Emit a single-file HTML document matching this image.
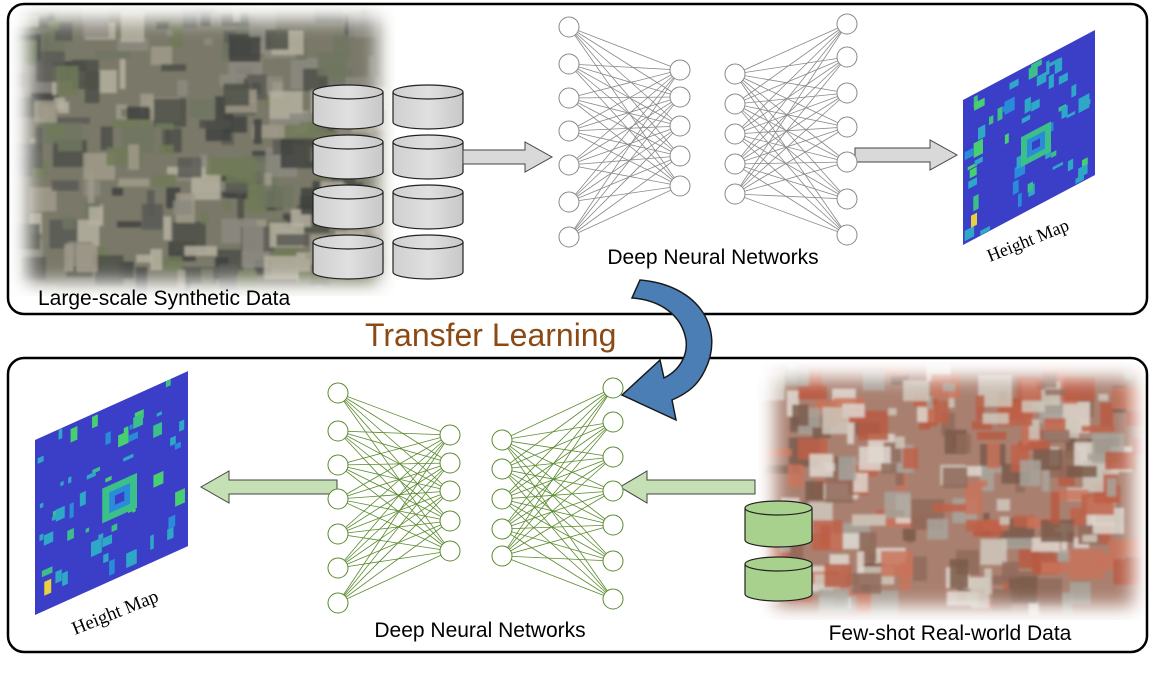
<!DOCTYPE html>
<html><head><meta charset="utf-8"><style>
html,body{margin:0;padding:0;background:#fff;width:1155px;height:676px;overflow:hidden}
svg{display:block}
text{font-family:"Liberation Sans",sans-serif}
</style></head><body>
<svg width="1155" height="676" viewBox="0 0 1155 676" xmlns="http://www.w3.org/2000/svg">
<defs>
<linearGradient id="cyl" x1="0" x2="1"><stop offset="0" stop-color="#cfcfcf"/><stop offset="0.5" stop-color="#e0e0e0"/><stop offset="1" stop-color="#c8c8c8"/></linearGradient>
<filter id="bl"><feGaussianBlur stdDeviation="1.2"/></filter>
<filter id="bl2"><feGaussianBlur stdDeviation="10"/></filter>
<filter id="mb" x="-0.2" y="-0.2" width="1.4" height="1.4"><feGaussianBlur stdDeviation="9"/></filter>
<mask id="m1" maskUnits="userSpaceOnUse" x="0" y="0" width="1155" height="676"><rect x="28" y="20" width="350" height="262" fill="#fff" filter="url(#mb)"/></mask>
<mask id="m2" maskUnits="userSpaceOnUse" x="0" y="0" width="1155" height="676"><rect x="775" y="378" width="358" height="228" fill="#fff" filter="url(#mb)"/></mask>
</defs>

<g id="city1" mask="url(#m1)"></g>
<g id="city2" mask="url(#m2)"></g>

<rect x="8" y="4" width="1139" height="310" rx="16" fill="none" stroke="#000" stroke-width="2.5"/>
<rect x="8" y="358" width="1139" height="294" rx="16" fill="none" stroke="#000" stroke-width="2.5"/>

<g stroke="#222" stroke-width="1.2" fill="url(#cyl)">
<path d="M313,92 v30 a35,7 0 0 0 70,0 v-30"/><ellipse cx="348" cy="92" rx="35" ry="7"/>
<path d="M393,92 v30 a35,7 0 0 0 70,0 v-30"/><ellipse cx="428" cy="92" rx="35" ry="7"/>
<path d="M313,142 v30 a35,7 0 0 0 70,0 v-30"/><ellipse cx="348" cy="142" rx="35" ry="7"/>
<path d="M393,142 v30 a35,7 0 0 0 70,0 v-30"/><ellipse cx="428" cy="142" rx="35" ry="7"/>
<path d="M313,192 v30 a35,7 0 0 0 70,0 v-30"/><ellipse cx="348" cy="192" rx="35" ry="7"/>
<path d="M393,192 v30 a35,7 0 0 0 70,0 v-30"/><ellipse cx="428" cy="192" rx="35" ry="7"/>
<path d="M313,242 v30 a35,7 0 0 0 70,0 v-30"/><ellipse cx="348" cy="242" rx="35" ry="7"/>
<path d="M393,242 v30 a35,7 0 0 0 70,0 v-30"/><ellipse cx="428" cy="242" rx="35" ry="7"/>
</g>
<g stroke="#222" stroke-width="1.2" fill="#a9d18e">
<path d="M745,508 v32 a33.5,7 0 0 0 67,0 v-32"/><ellipse cx="778.5" cy="508" rx="33.5" ry="7"/>
<path d="M745,564 v30 a33.5,7 0 0 0 67,0 v-30"/><ellipse cx="778.5" cy="564" rx="33.5" ry="7"/>
</g>

<g stroke="#444" stroke-width="1">
<path d="M463,150 h62 v-8 l27,15 l-27,15 v-8 h-62z" fill="#d9d9d9"/>
<path d="M855,148 h75 v-8 l27,15 l-27,15 v-8 h-75z" fill="#d9d9d9"/>
<path d="M755,480 h-108 v-9 l-27,16 l27,16 v-9 h108z" fill="#c5e0b4"/>
<path d="M337,480 h-108 v-9 l-28,16 l28,16 v-9 h108z" fill="#c5e0b4"/>
</g>

<path d="M640,280 C700,285 725,330 705,370 C698,385 688,393 672,400 L676,420 L622,395 L660,360 L664,378 C680,370 688,355 686,340 C682,315 660,300 632,298 Z" fill="#4a7eb4" stroke="#1a1a1a" stroke-width="1.5"/>

<g id="nets"></g>

<g transform="matrix(1,-0.53,0,1,963,100)"><g id="hm1"></g></g>
<g transform="matrix(1,-0.45,0,1,35,440)"><g id="hm2"></g></g>

<text x="38" y="305" font-size="21" fill="#000">Large-scale Synthetic Data</text>
<text x="713" y="264" font-size="21" text-anchor="middle" fill="#000">Deep Neural Networks</text>
<text x="480" y="637" font-size="21" text-anchor="middle" fill="#000">Deep Neural Networks</text>
<text x="950" y="640" font-size="21" text-anchor="middle" fill="#000">Few-shot Real-world Data</text>
<text x="365" y="346" font-size="32" fill="#8b4a14">Transfer Learning</text>
<text transform="translate(990,262) rotate(-22)" font-size="18" style="font-family:'Liberation Serif',serif">Height Map</text>
<text transform="translate(75,635) rotate(-22)" font-size="19" style="font-family:'Liberation Serif',serif">Height Map</text>
</svg>
<script>
(function(){
var ns="http://www.w3.org/2000/svg";
var seed=7;function R(){seed=(seed*16807)%2147483647;return seed/2147483647;}
function el(p,t,a){var e=document.createElementNS(ns,t);for(var k in a)e.setAttribute(k,a[k]);p.appendChild(e);return e;}
function city(id,x,y,w,h,base,pal){
  var g=document.getElementById(id);
  el(g,"rect",{x:x,y:y,width:w,height:h,fill:base});
  var c=el(g,"g",{filter:"url(#bl)"});
  for(var i=0;i<260;i++){var rw=6+R()*30,rh=6+R()*26;
    el(c,"rect",{x:x+R()*(w-rw),y:y+R()*(h-rh),width:rw,height:rh,fill:pal[Math.floor(R()*pal.length)],opacity:0.85});}
}
city("city1",10,4,385,292,"#7a7868",["#5a5b55","#8c8a80","#6e7560","#a09a8a","#3f4240","#b5b0a0","#707a58","#4d5048"]);
city("city2",758,362,388,258,"#a98070",["#b85a42","#c9735a","#8f6a5a","#a8a49c","#d0c8bc","#7a5a4a","#c06048","#e0d8d0"]);
function hm(id,w,h){
  var g=document.getElementById(id);
  el(g,"rect",{x:0,y:0,width:w,height:h,fill:"#3b3fc8"});
  var cols=["#2fa8c8","#2fa8c8","#2a8cd8","#3cc08a","#48d070","#2fa8c8"];
  for(var i=0;i<50;i++){var rw=3+R()*8,rh=3+R()*12;
    el(g,"rect",{x:R()*(w-rw),y:R()*(h-rh),width:rw,height:rh,fill:cols[Math.floor(R()*cols.length)]});}
  var s=w/132;
  el(g,"rect",{x:58*s,y:68*s,width:30*s,height:30*s,fill:"#3cc08a"});
  el(g,"rect",{x:64*s,y:74*s,width:18*s,height:18*s,fill:"#2a8cd8"});
  el(g,"rect",{x:69*s,y:79*s,width:8*s,height:8*s,fill:"#3b3fc8"});
  el(g,"rect",{x:8*s,y:h-25*s,width:6*s,height:12*s,fill:"#e8d040"});
}
hm("hm1",132,145);hm("hm2",153,175);
var g=document.getElementById("nets");
function net(cols,col){
  [[0,1],[2,3]].forEach(function(p){var A=cols[p[0]],B=cols[p[1]];
    A.ys.forEach(function(a){B.ys.forEach(function(b){
      el(g,"line",{x1:A.x,y1:a,x2:B.x,y2:b,stroke:col,"stroke-width":0.8});});});});
  cols.forEach(function(c){c.ys.forEach(function(y){
    el(g,"circle",{cx:c.x,cy:y,r:10,fill:"#fff",stroke:col,"stroke-width":1});});});
}
net([{x:569,ys:[27,64,98,131,165,202,237]},{x:680,ys:[70,97,126,156,186]},{x:735,ys:[74,104,134,164,194]},{x:847,ys:[24,57,93,127,162,199,235]}],"#888");
net([{x:338,ys:[393,431,465,499,534,568,603]},{x:450,ys:[435,463,491,521,551]},{x:502,ys:[440,469,499,529,556]},{x:613,ys:[388,422,457,491,525,561,599]}],"#5a8a2e");
})();
</script>
</body></html>
